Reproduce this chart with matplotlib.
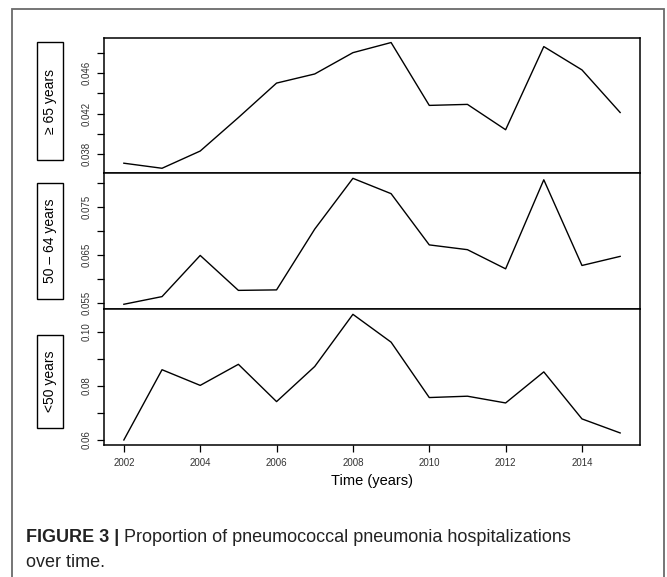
import matplotlib
matplotlib.use("Agg")
import matplotlib.pyplot as plt
from matplotlib.patches import Rectangle

plt.rcParams["font.family"] = ["Liberation Sans", "DejaVu Sans"]

# Datos
anios = [2002, 2003, 2004, 2005, 2006, 2007, 2008,
         2009, 2010, 2011, 2012, 2013, 2014, 2015]

prop_65 = [0.0371, 0.0366, 0.0383, 0.0416, 0.0450, 0.0459, 0.0480,
           0.0490, 0.0428, 0.0429, 0.0404, 0.0486, 0.0463, 0.0421]
prop_50_64 = [0.0547, 0.0563, 0.0649, 0.0576, 0.0577, 0.0704, 0.0810,
              0.0778, 0.0671, 0.0661, 0.0621, 0.0807, 0.0628, 0.0647]
prop_50 = [0.0599, 0.0859, 0.0801, 0.0879, 0.0741, 0.0871, 0.1064,
           0.0961, 0.0756, 0.0761, 0.0736, 0.0851, 0.0677, 0.0625]

etiquetas_grupo = ["\u2265 65 years", "50 \u2013 64 years", "<50 years"]

ticks_65 = [0.038, 0.040, 0.042, 0.044, 0.046, 0.048]
labels_65 = ["0.038", "", "0.042", "", "0.046", ""]
ticks_50_64 = [0.055, 0.060, 0.065, 0.070, 0.075, 0.080]
labels_50_64 = ["0.055", "", "0.065", "", "0.075", ""]
ticks_50 = [0.06, 0.07, 0.08, 0.09, 0.10]
labels_50 = ["0.06", "", "0.08", "", "0.10"]

x_ticks = [2002, 2004, 2006, 2008, 2010, 2012, 2014]

W, H = 667, 577
fig = plt.figure(figsize=(W / 100, H / 100), dpi=100)


def px_rect(x0, y0, x1, y1):
    # rectangulo en pixeles (origen arriba-izquierda) -> fraccion de figura
    return [x0 / W, 1 - y1 / H, (x1 - x0) / W, (y1 - y0) / H]


# marco exterior gris
fig.patches.append(Rectangle((12 / W, -0.05), (664 - 12) / W, 1 - 9 / H + 0.05,
                             transform=fig.transFigure, fill=False,
                             edgecolor="#6a6a6a", linewidth=1.3))

paneles = [
    (prop_65, ticks_65, labels_65, (37.5, 173.3), (42.3, 160.0)),
    (prop_50_64, ticks_50_64, labels_50_64, (173.3, 309.3), (182.7, 299.3)),
    (prop_50, ticks_50, labels_50, (309.3, 445.0), (335.0, 428.3)),
]

ejes = []
for i, (serie, ticks, labels, (y_top, y_bot), (b_top, b_bot)) in enumerate(paneles):
    ax = fig.add_axes(px_rect(104, y_top, 640, y_bot))
    ax.plot(anios, serie, color="black", linewidth=1.0)

    # rango estilo R (4% de margen)
    rango_x = anios[-1] - anios[0]
    ax.set_xlim(anios[0] - 0.04 * rango_x, anios[-1] + 0.04 * rango_x)
    lo, hi = min(serie), max(serie)
    ax.set_ylim(lo - 0.04 * (hi - lo), hi + 0.04 * (hi - lo))

    ax.set_yticks(ticks)
    ax.set_yticklabels(labels)
    ax.tick_params(axis="y", labelrotation=90, length=5, width=0.9,
                   pad=4, labelsize=7, labelcolor="#333333")
    for t in ax.get_yticklabels():
        t.set_va("center")

    if i < 2:
        ax.set_xticks([])
    else:
        ax.set_xticks(x_ticks)
        ax.tick_params(axis="x", length=5, width=0.9, pad=4,
                       labelsize=7, labelcolor="#333333")
        ax.set_xlabel("Time (years)", fontsize=10.5, labelpad=5)

    for s in ax.spines.values():
        s.set_linewidth(1.1)

    # caja con la etiqueta del grupo
    x0, x1 = 37.3, 63.3
    fig.patches.append(Rectangle((x0 / W, 1 - b_bot / H), (x1 - x0) / W,
                                 (b_bot - b_top) / H, transform=fig.transFigure,
                                 fill=False, edgecolor="black", linewidth=1.0))
    fig.text((x0 + x1) / 2 / W, 1 - (b_top + b_bot) / 2 / H, etiquetas_grupo[i],
             rotation=90, ha="center", va="center", fontsize=10)
    ejes.append(ax)

# pie de figura
t1 = fig.text(26.5 / W, 1 - 542 / H, "FIGURE 3 |", fontsize=13,
              fontweight="bold", va="baseline", color="#222222")
fig.canvas.draw()
ext = t1.get_window_extent(fig.canvas.get_renderer())
fig.text((ext.x1 + 4) / W, 1 - 542 / H,
         "Proportion of pneumococcal pneumonia hospitalizations",
         fontsize=13, va="baseline", color="#222222")
fig.text(26.5 / W, 1 - 567 / H, "over time.", fontsize=13,
         va="baseline", color="#222222")

fig.savefig("out.png", dpi=100)
